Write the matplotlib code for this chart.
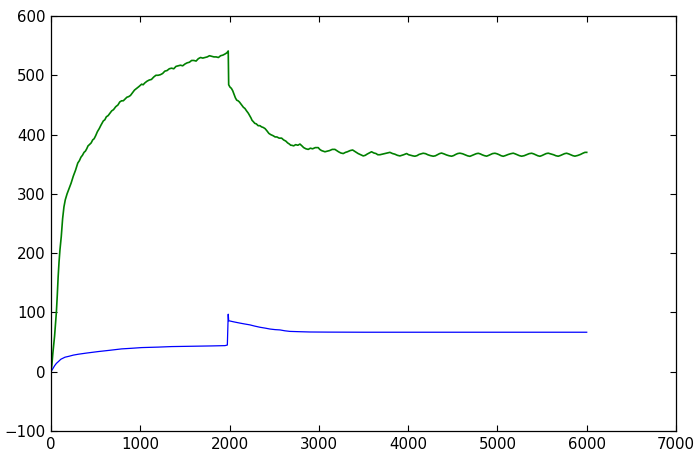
import matplotlib
matplotlib.use("Agg")
import matplotlib.pyplot as plt

plt.rcParams['font.family'] = ['DejaVu Sans']

green_x = [0, 10, 20, 30, 40, 50, 60, 70, 80, 90, 100, 115, 130, 145, 160, 180, 200, 225, 250, 275,
           300, 318, 336, 352, 370, 385, 400, 415, 430, 450, 467, 483, 500, 520, 540, 560, 586, 603,
           620, 640, 660, 680, 700, 725, 750, 770, 791, 810, 830, 850, 870, 890, 910, 935, 960, 985,
           1015, 1032, 1050, 1075, 1100, 1125, 1150, 1175, 1200, 1225, 1250, 1275, 1300, 1325, 1350,
           1375, 1400, 1425, 1450, 1475, 1500, 1525, 1550, 1575, 1600, 1625, 1650, 1675, 1700, 1725,
           1750, 1775, 1800, 1825, 1850, 1875, 1900, 1925, 1950, 1970, 1985,
           1990, 2005, 2020, 2035, 2050, 2065, 2080, 2095, 2110, 2125, 2140, 2155, 2172, 2190, 2210,
           2225, 2240, 2252, 2265, 2282, 2300, 2320, 2340, 2358, 2377, 2398, 2420, 2440, 2460, 2475,
           2489, 2510, 2530, 2555, 2583, 2605, 2630, 2650, 2670, 2685, 2695, 2718, 2740, 2765, 2788,
           2810, 2830, 2855, 2881, 2905, 2930, 2960, 2993, 3010, 3030, 3050, 3068, 3095, 3120, 3150,
           3180, 3200, 3220, 3245, 3273, 3298, 3320, 3350, 3378, 3410, 3440, 3470, 3497, 3520, 3540,
           3565, 3590, 3615, 3640, 3660, 3684, 3710, 3740, 3770, 3796, 3825, 3850, 3880, 3908, 3930,
           3950, 3965, 3983, 4005, 4030, 4055,
           4076, 4100, 4122, 4145, 4168, 4195, 4220, 4250, 4281, 4305, 4330, 4352, 4374, 4400, 4430,
           4458, 4487, 4510, 4530, 4555, 4580, 4610, 4640, 4665, 4692, 4715, 4740, 4762, 4785, 4808,
           4830, 4855, 4879, 4900, 4920, 4945, 4972, 4995, 5020, 5042, 5065, 5090, 5120, 5148, 5177,
           5200, 5220, 5245, 5271, 5300, 5330, 5355, 5383, 5405, 5430, 5452, 5476, 5498, 5520, 5545,
           5569, 5600, 5630, 5655, 5681, 5705, 5730, 5752, 5775, 5798, 5820, 5845, 5868, 5900, 5930,
           5955, 5980, 6000]
green_y = [0, 12, 30, 45, 60, 80, 100, 128, 160, 185, 205, 228, 258, 278, 290, 300, 308, 318, 330, 340,
           352, 356, 362, 365, 370, 372, 376, 381, 383, 386, 391, 393, 398, 405, 410, 416, 423, 425,
           430, 432, 436, 440, 442, 447, 450, 455, 457, 457, 460, 463, 464, 466, 470, 475, 478, 481,
           485, 484, 487, 490, 492, 493, 497, 500, 500, 501, 503, 507, 508, 511, 512,
           511, 515, 516, 517, 516, 519, 521, 522, 525, 525, 524, 528, 530, 529, 530,
           531, 533, 532, 531, 531, 530, 533, 534, 536, 538, 541,
           484, 480, 478, 474, 468, 462, 458, 457, 455, 452, 449, 446, 444, 440, 436,
           432, 428, 424, 422, 419, 418, 415, 415, 413, 412, 410, 406, 402, 400, 399,
           398, 396, 396, 394, 394, 391, 389, 386, 384, 382, 382, 381, 383, 382, 384,
           381, 378, 376, 375, 377, 376, 378, 378, 375, 373, 372, 371, 372, 373, 375,
           375, 373, 371, 369, 368, 370, 371, 373, 374, 371, 368, 366, 364, 365, 367,
           369, 371, 369, 368, 366, 366, 367, 368, 369, 370, 368, 367, 365, 364, 365,
           366, 367, 368, 366, 365, 364,
           363.5, 364.5, 366.5, 367.5, 368.5, 367.8, 366, 364.5, 363.5, 364.2, 366.2, 367.9, 368.8, 367.5, 365.6,
           364.3, 363.5, 364.6, 366.3, 368, 368.6, 367.6, 365.8, 364.2, 363.3, 364.7, 366.4, 367.7, 368.4, 367.4,
           365.8, 364.4, 363.6, 364.8, 366.2, 367.9, 368.5, 367.6, 366, 364.3, 363.4, 364.6, 366.4, 367.7, 368.6,
           367.4, 366.1, 364.5, 363.5, 364.4, 366.3, 367.8, 368.5, 367.5, 365.8, 364.3, 363.4, 364.6, 366.2, 367.9,
           368.6, 367.3, 365.9, 364.3, 363.5, 364.7, 366.4, 367.8, 368.5, 367.4, 365.9, 364.4, 363.6, 364.8, 366.5,
           368.4, 370, 370]

blue_x = [0, 20, 40, 60, 82, 110, 157, 200, 250, 306, 400, 530, 650, 791, 900, 1015, 1200, 1351,
          1600, 1800, 1949, 1975, 1985, 1990, 2050, 2116, 2170, 2228, 2280, 2340, 2400, 2452, 2510,
          2564, 2620, 2676, 2780, 2900, 3100, 3500, 4000, 5000, 6000]
blue_y = [0, 5, 10, 14, 17, 21, 24.5, 26, 28, 29.5, 31.5, 34, 36, 38.5, 39.5, 40.7, 41.5, 42.4,
          43, 43.5, 44, 45, 97, 86, 84, 82, 80.5, 79, 77, 75, 73.5, 72, 71,
          70.5, 69, 68, 67.5, 67, 66.8, 66.6, 66.6, 66.6, 66.6]

x_ticks = [0, 1000, 2000, 3000, 4000, 5000, 6000, 7000]
y_ticks = [-100, 0, 100, 200, 300, 400, 500, 600]

fig = plt.figure(figsize=(6.99, 4.51), dpi=100)
ax = fig.add_axes([51 / 699, 20 / 451, 625 / 699, 415 / 451])
ax.plot(green_x, green_y, color='#008000', lw=1.2)
ax.plot(blue_x, blue_y, color='#0000ff', lw=0.9)
ax.set_xlim(0, 7000)
ax.set_ylim(-100, 600)
ax.set_xticks(x_ticks)
ax.set_yticks(y_ticks)
ax.tick_params(direction='in', top=True, right=True, length=4, width=0.8,
               labelsize=10.8, pad=4, colors='black')
for s in ax.spines.values():
    s.set_linewidth(0.9)
fig.savefig('out.png', dpi=100)
